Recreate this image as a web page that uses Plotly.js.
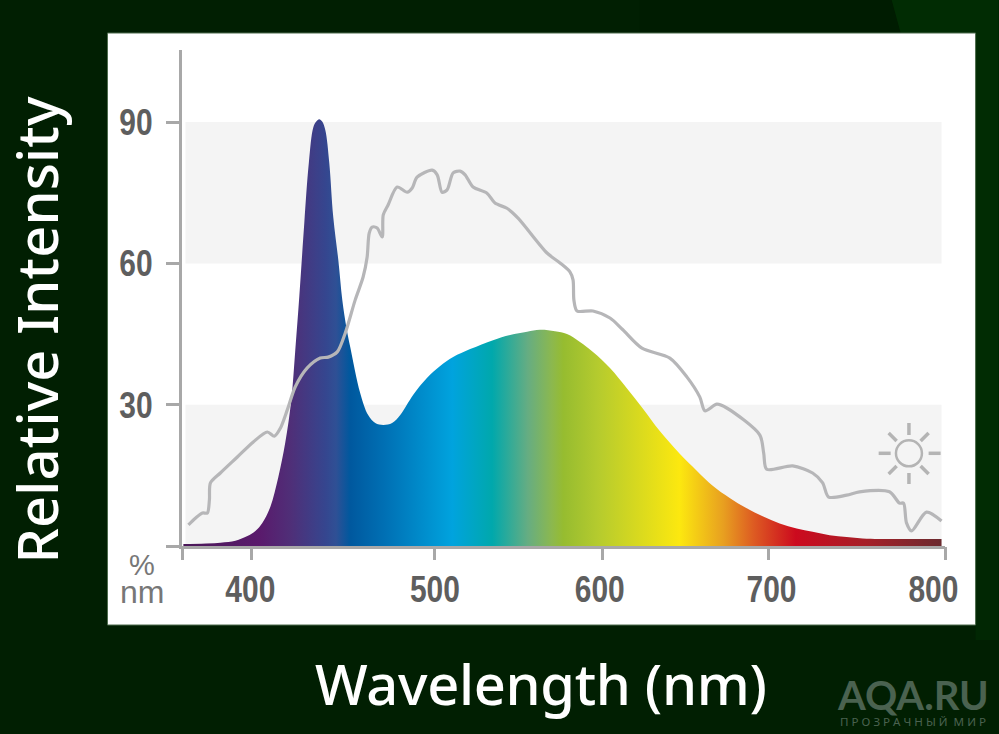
<!DOCTYPE html>
<html><head><meta charset="utf-8">
<script src="https://cdn.plot.ly/plotly-3.0.1.min.js"></script>
<style>html,body{margin:0;padding:0;background:#011f02}#c{width:999px;height:734px}</style>
</head><body><div id="c"></div>
<script>
const ledX = [361,382.3,391,397.9,402.5,406.5,411.1,415.7,419.7,423.2,425.5,427.8,430.7,433.3,435.9,437.6,439.3,441,442.8,445.1,447.4,450.3,452.6,454.9,457.2,462.9,467.5,471.6,476.2,481.3,486,493.5,501.5,509,516.5,526.3,539.5,549.3,559.1,566.5,575.2,582.1,589.6,597.1,606.9,616.6,625.8,635.6,647.1,656.9,666.1,675.9,685.7,694.9,704.7,714.5,723.7,733.5,743.3,752.5,762.3,781.3,798];
const ledY = [0.4,0.7,1.1,2.1,3.2,4.9,8.3,14.6,21.9,31,41.6,52.9,68.6,81.3,88.9,90.1,90.6,90.1,88.3,81.3,69.8,60.7,52.2,46.5,42.2,32.5,27.8,26.1,25.7,26.1,27.8,32.1,35.7,38.2,40.1,41.8,43.7,44.8,45.5,45.9,45.6,45,43.3,41.2,37.8,33.5,29.2,24.4,19.6,16,12.8,10.2,8,6.3,4.8,3.7,3,2.3,1.9,1.6,1.5,1.5,1.5];
const sunX = [363.9,367.9,372,374.8,376,376.6,382.3,392.1,401.3,409.4,413.4,416.9,420.9,425.5,432.4,439.9,444.5,449.7,454.3,460,464.6,466.9,468.1,469.8,472.7,475.6,476.2,479,484.2,490,492.9,495.7,504.4,507.3,510.1,513,516.5,520.5,523.4,528,536,540.6,547.5,553.9,570.6,578.1,583.8,585.6,586.1,587.9,597.1,606.9,614.3,625.3,641.4,651.2,658.7,661.6,668.5,674.2,693.2,695.5,697.2,712.2,723.7,729.5,732.9,743.3,750.7,768,773.8,776.1,777.8,780.7,789.3,798];
const sunY = [4.5,5.9,7,7,9.8,13.4,15.5,18.9,22.1,24.2,23.3,25,28.9,33.8,37.8,39.9,40.1,41.2,45.2,52.2,57.1,61.3,66.4,67.7,67.5,65.6,70.3,72.4,76.2,75.1,76,78.3,79.8,78.8,75.1,75.6,79.2,79.6,78.8,76.2,74.9,72.8,71.7,69.6,62.2,60.1,58.2,56.5,52.2,49.9,49.9,48.4,45.9,42,39.9,35.9,31.6,28.7,30.1,29.3,23.6,19.7,16.3,17,15.5,13.4,10.4,10.8,11.5,11.5,9.1,9.1,4.9,3.2,7.2,5.3];
const gradPos = [361,405,423,443,449,457,478,516,539,559.6,573.5,580,600,647,672,690,714,755,798];
const gradCol = ['#4a1858','#5a1a6c','#4f2f78','#35468f','#2f5095','#00589e','#0071b5','#00a3de','#00a8ac','#66ad82','#8cb84e','#96bc30','#b5cb2e','#fce80f','#e8a020','#dd5a22','#cc0a1e','#a52028','#6b2a2f'];
const xTickMarks = [360.2,400,505.9,602.5,698.4,800];
const xLabelPos = [399.6,506,601,700,793.3];
const xLabels = ['400','500','600','700','800'];
const yTicks = [0,30,60,90];
const yLabels = ['','30','60','90'];
const bands = [[0,30],[60,90]];

const L=181.6,R=945.4,T=50,B=546,W=R-L,H=B-T;
const px=v=>(v-L)/W, py=v=>(B-v)/H;
const GR='#a8a8a8', LBL='#5e5e5e';
const rect=(x0,y0,x1,y1,fill,line)=>({type:'rect',xref:'paper',yref:'paper',x0:px(x0),x1:px(x1),y0:py(y0),y1:py(y1),fillcolor:fill,line:line||{width:0},layer:'below'});
const ray=(x0,y0,x1,y1)=>({type:'line',xref:'paper',yref:'paper',x0:px(x0),x1:px(x1),y0:py(y0),y1:py(y1),line:{color:'#b4b4b4',width:3.5},layer:'above'});
const shapes=[
 {type:'path',xref:'paper',yref:'paper',path:`M ${px(640)} ${py(0)} L ${px(892)} ${py(0)} L ${px(901)} ${py(33)} L ${px(640)} ${py(33)} Z`,fillcolor:'#001c01',line:{width:0},layer:'below'},
 {type:'path',xref:'paper',yref:'paper',path:`M ${px(892)} ${py(0)} L ${px(999)} ${py(0)} L ${px(999)} ${py(520)} L ${px(976)} ${py(520)} L ${px(976)} ${py(33)} L ${px(901)} ${py(33)} Z`,fillcolor:'#012c03',line:{width:0},layer:'below'},
 rect(976,520,999,640,'#012703'),
 rect(107,33,976,625,'#ffffff',{color:'#4d6b4d',width:1}),
 ...bands.map(b=>({type:'rect',xref:'x',yref:'y',x0:362.2,x1:798,y0:b[0],y1:b[1],fillcolor:'#f4f4f4',line:{width:0},layer:'below'})),
 {type:'circle',xref:'paper',yref:'paper',x0:px(896.3),x1:px(922.3),y0:py(466.3),y1:py(440.3),line:{color:'#b4b4b4',width:2.5},fillcolor:'rgba(0,0,0,0)',layer:'above'},
 ray(909.3,423,909.3,435),ray(909.3,473,909.3,484),ray(879,453.3,891,453.3),ray(929,453.3,941,453.3),
 ray(889,433,897,441),ray(929,433,921,441),ray(889,474,897,466),ray(929,474,921,466)
];
const traces=[
 {x:ledX,y:ledY,type:'scatter',mode:'lines',line:{width:0,shape:'spline',smoothing:1},fill:'tozeroy',
  fillgradient:{type:'horizontal',start:gradPos[0],stop:gradPos[gradPos.length-1],
   colorscale:gradPos.map((p,i)=>[(p-gradPos[0])/(gradPos[gradPos.length-1]-gradPos[0]),gradCol[i]])},
  hoverinfo:'skip',showlegend:false},
 {x:sunX,y:sunY,xaxis:'x2',type:'scatter',mode:'lines',line:{color:'#b6b6b8',width:3.2,shape:'spline',smoothing:0.8},hoverinfo:'skip',showlegend:false}
];
const tickFont={family:'"Liberation Sans", sans-serif',size:37,color:LBL,weight:700};
const titleFont={family:'"Noto Sans", sans-serif',size:56,color:'#ffffff',weight:500};
const layout={
 width:999,height:734,paper_bgcolor:'#011f02',plot_bgcolor:'rgba(0,0,0,0)',showlegend:false,
 margin:{l:L,r:999-R,t:T,b:734-B,pad:0},
 xaxis:{range:[360.2,800],tickmode:'array',tickvals:xLabelPos,ticktext:xLabels,ticks:'',tickfont:tickFont,ticklabelstandoff:9,
  showgrid:false,zeroline:false,showline:true,linecolor:GR,linewidth:3,
  title:{text:'Wavelength (nm)',font:titleFont,standoff:52}},
 xaxis2:{range:[360.2,800],overlaying:'x',anchor:'y',side:'bottom',tickmode:'array',tickvals:xTickMarks,ticks:'outside',ticklen:13,tickwidth:3,tickcolor:GR,showticklabels:false,showgrid:false,zeroline:false,showline:false},
 yaxis:{range:[0,105.3],tickmode:'array',tickvals:yTicks,ticktext:yLabels,ticks:'outside',ticklen:13,tickwidth:3,tickcolor:GR,tickfont:tickFont,ticklabelstandoff:6,
  showgrid:false,zeroline:false,showline:true,linecolor:GR,linewidth:3,
  title:{text:'Relative Intensity',font:titleFont,standoff:50}},
 shapes,
 annotations:[
  {xref:'paper',yref:'paper',x:px(142),y:py(565),xanchor:'center',yanchor:'middle',text:'%',showarrow:false,font:{family:'"Liberation Sans", sans-serif',size:29,color:'#777777'}},
  {xref:'paper',yref:'paper',x:px(142),y:py(592),xanchor:'center',yanchor:'middle',text:'nm',showarrow:false,font:{family:'"Liberation Sans", sans-serif',size:32,color:'#777777'}},
  {xref:'paper',yref:'paper',x:px(913),y:py(695),xanchor:'center',yanchor:'middle',text:'AQA.RU',showarrow:false,font:{family:'Lato, sans-serif',size:40,weight:700,color:'#4a6250'}},
  {xref:'paper',yref:'paper',x:px(913),y:py(721),xanchor:'center',yanchor:'middle',text:'П Р О З Р А Ч Н Ы Й &nbsp;М И Р',showarrow:false,font:{family:'"Noto Sans", sans-serif',size:11.6,color:'#4a6250'}}
 ]
};
Plotly.newPlot('c',traces,layout,{displayModeBar:false,staticPlot:true}).then(()=>{
 // the reference's tick digits are condensed: squeeze the real text horizontally
 document.querySelectorAll('.xtick text, .ytick text').forEach(t=>{
  const len=t.getComputedTextLength();
  if(len>0){t.setAttribute('textLength',(len*0.81).toFixed(1));t.setAttribute('lengthAdjust','spacingAndGlyphs');}
 });
 const xt=document.querySelector('.xtitle');
 if(xt){xt.setAttribute('x',541);xt.setAttribute('y',705);xt.setAttribute('text-anchor','middle');xt.setAttribute('textLength',452);}
 const yt=document.querySelector('.ytitle');
 if(yt){yt.setAttribute('x',41);yt.setAttribute('y',330);yt.setAttribute('text-anchor','middle');yt.setAttribute('transform','rotate(-90,41,330)');yt.setAttribute('textLength',467);}
});
</script></body></html>
